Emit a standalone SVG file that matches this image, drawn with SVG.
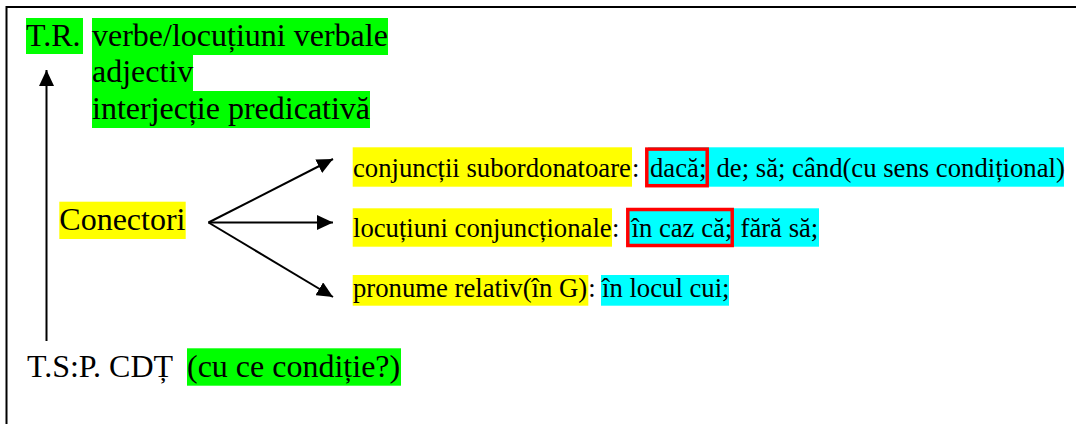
<svg xmlns="http://www.w3.org/2000/svg" width="1076" height="424" viewBox="0 0 1076 424" font-family="'Liberation Serif', 'Times New Roman', Times, 'DejaVu Serif', serif">
<defs>
<style>
text{font-family:'Liberation Serif','Times New Roman',Times,'DejaVu Serif',serif;fill:#000}
.big{font-size:32px}
.sm{font-size:26.7px}
.g{fill:#00ff00}
.y{fill:#ffff00}
.c{fill:#00ffff}
.rb{fill:none;stroke:#ff0000;stroke-width:3.5}
.ln{fill:none;stroke:#000;stroke-width:2}
</style>
<marker id="ah" viewBox="0 0 16 15" refX="16" refY="7.5" markerWidth="16" markerHeight="15" markerUnits="userSpaceOnUse" orient="auto">
<path d="M0,0 L16,7.5 L0,15 z" fill="#000"/>
</marker>
</defs>
<rect width="1076" height="424" fill="#fff"/>
<path d="M1076,7 H6.5 V424" fill="none" stroke="#000" stroke-width="2"/>

<g id="tr">
<rect class="g" x="26" y="18" width="57" height="36"/>
<text class="big" x="26" y="45.5">T.R.</text>
</g>
<g id="predicate">
<rect class="g" x="92" y="18" width="296" height="37"/>
<rect class="g" x="92" y="55" width="101" height="36"/>
<rect class="g" x="92" y="91" width="278" height="37"/>
<text class="big" x="92" y="45.5">verbe/locuțiuni verbale</text>
<text class="big" x="92" y="82.2">adjectiv</text>
<text class="big" x="92" y="118.9">interjecție predicativă</text>
</g>
<g id="conectori">
<rect class="y" x="59.3" y="201.7" width="126.4" height="37.3"/>
<text class="big" x="59.3" y="230">Conectori</text>
</g>
<g id="conjunctii">
<rect class="y" x="352.7" y="147.3" width="279.3" height="39.4"/>
<rect class="c" x="648" y="147.3" width="416" height="39.4"/>
<rect class="rb" x="646.8" y="149.1" width="60.4" height="36.6"/>
<text class="sm" x="353" y="176.5">conjuncții subordonatoare</text>
<text class="sm" x="632" y="176.5">:</text>
<text class="sm" x="650" y="176.5">dacă;</text>
<text class="sm" x="716.5" y="176.5">de; să; când(cu sens condițional)</text>
</g>
<g id="locutiuni">
<rect class="y" x="352.7" y="208.3" width="259.3" height="38.4"/>
<rect class="c" x="629" y="208.3" width="190" height="38.4"/>
<rect class="rb" x="627.8" y="209.5" width="104.4" height="36"/>
<text class="sm" x="353" y="236.5">locuțiuni conjuncționale</text>
<text class="sm" x="612" y="236.5">:</text>
<text class="sm" x="631.5" y="236.5">în caz că;</text>
<text class="sm" x="740.5" y="236.5">fără să;</text>
</g>
<g id="pronume">
<rect class="y" x="352.7" y="275" width="235.6" height="30.7"/>
<rect class="c" x="601" y="275" width="128" height="30.7"/>
<text class="sm" x="353" y="296.5">pronume relativ(în G)</text>
<text class="sm" x="588.3" y="296.5">:</text>
<text class="sm" x="602" y="296.5">în locul cui;</text>
</g>
<g id="tsp">
<rect class="g" x="187" y="348.3" width="214" height="37.4"/>
<text class="big" x="27" y="377">T.S:P. CDȚ <tspan x="187">(cu ce condiție?)</tspan></text>
</g>
<g id="connectors">
<line class="ln" x1="46.5" y1="341" x2="46.5" y2="70" marker-end="url(#ah)"/>
<line class="ln" x1="208.5" y1="222.5" x2="333" y2="159" marker-end="url(#ah)"/>
<line class="ln" x1="208.5" y1="222.5" x2="333" y2="222.5" marker-end="url(#ah)"/>
<line class="ln" x1="208.5" y1="222.5" x2="333" y2="297" marker-end="url(#ah)"/>
</g>
</svg>
